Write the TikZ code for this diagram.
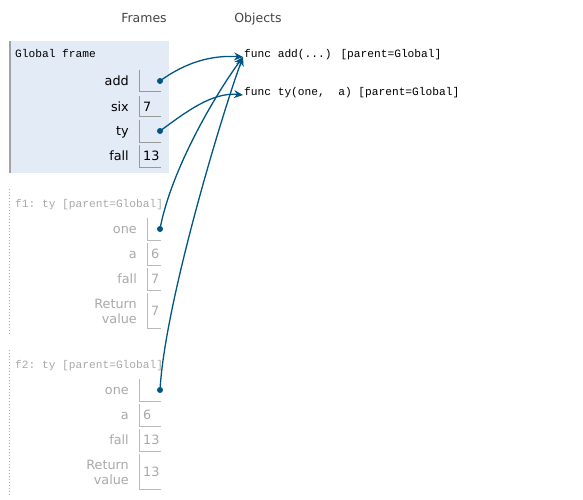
\documentclass[tikz,border=0pt]{standalone}
\usepackage{fontspec}
\setmainfont{DejaVu Sans}
\newfontfamily\codefont{Liberation Mono}
\usetikzlibrary{arrows.meta}
\definecolor{framebg}{HTML}{E2EBF6}
\definecolor{boxline}{HTML}{999999}
\definecolor{ghost}{HTML}{A9A9A9}
\definecolor{pointer}{HTML}{005583}
\definecolor{header}{HTML}{444444}
\begin{document}
\begin{tikzpicture}[x=1pt,y=-1pt,
  header/.style={font=\fontsize{12.5}{14}\selectfont, text=header, inner sep=0pt, text height=9.5pt, text depth=0pt},
  frametitle/.style={font=\codefont\fontsize{11.2}{13}\selectfont, anchor=west, inner sep=0pt, text height=8pt, text depth=0pt},
  objtext/.style={frametitle},
  varname/.style={font=\fontsize{12.8}{15}\selectfont, anchor=east, inner sep=0pt, text height=9.6pt, text depth=0pt},
  varval/.style={varname, anchor=west},
  retname/.style={font=\fontsize{12.8}{15}\selectfont, anchor=east, inner sep=0pt, align=right},
  valbox/.style={draw=boxline, line width=1pt},
  ghostbox/.style={draw=ghost!80, line width=1pt},
  dot/.style={circle, fill=pointer, inner sep=0pt, minimum size=6pt},
  ptr/.style={draw=pointer, line width=1.3pt, -{Stealth[length=9pt,width=8pt,inset=3pt]}},
]
\useasboundingbox (0,0) rectangle (583,500);

% headers
\node[header] (hframes) at (144,18) {Frames};
\node[header] (hobjects) at (258,18) {Objects};

% global frame
\fill[framebg] (9,41) rectangle (169,173);
\draw[boxline!90, line width=1.6pt] (9.8,41) -- (9.8,173);
\node[frametitle] (gtitle) at (15,54) {Global frame};

\node[varname] (gadd) at (129,81) {add};
\draw[valbox] (139.5,70) |- (161,92);
\node[dot] (dadd) at (160,81) {};

\node[varname] (gsix) at (129,106.5) {six};
\draw[valbox] (139.5,96) |- (161,117);
\node[varval] (vsix) at (143,106.5) {7};

\node[varname] (gty) at (129,131) {ty};
\draw[valbox] (139.5,120) |- (161,142);
\node[dot] (dty) at (160,131) {};

\node[varname] (gfall) at (129,156) {fall};
\draw[valbox] (139.5,145) |- (161,167);
\node[varval] (vfall) at (143,156) {13};

% frame f1
\draw[ghost, line width=1pt, dotted] (9.8,189) -- (9.8,335);
\begin{scope}[every node/.append style={text=ghost}]
\node[frametitle] (f1title) at (15,203) {f1:\ ty [parent=Global]};

\node[varname] (f1one) at (137,229) {one};
\draw[ghostbox] (147.5,218) |- (161,240);

\node[varname] (f1a) at (137,254) {a};
\draw[ghostbox] (147.5,243) |- (161,265);
\node[varval] (f1av) at (151,254) {6};

\node[varname] (f1fall) at (137,279) {fall};
\draw[ghostbox] (147.5,268) |- (161,290);
\node[varval] (f1fallv) at (151,279) {7};

\node[retname] (f1ret) at (137,311) {Return\\value};
\draw[ghostbox] (147.5,293) |- (161,328);
\node[varval] (f1retv) at (151,311) {7};
\end{scope}
\node[dot] (df1) at (160,229) {};

% frame f2
\draw[ghost, line width=1pt, dotted] (9.8,350) -- (9.8,495);
\begin{scope}[every node/.append style={text=ghost}]
\node[frametitle] (f2title) at (15,364) {f2:\ ty [parent=Global]};

\node[varname] (f2one) at (129,390) {one};
\draw[ghostbox] (139.5,379) |- (161,401);

\node[varname] (f2a) at (129,415) {a};
\draw[ghostbox] (139.5,404) |- (161,426);
\node[varval] (f2av) at (143,415) {6};

\node[varname] (f2fall) at (129,440) {fall};
\draw[ghostbox] (139.5,429) |- (161,451);
\node[varval] (f2fallv) at (143,440) {13};

\node[retname] (f2ret) at (129,472) {Return\\value};
\draw[ghostbox] (139.5,454) |- (161,489);
\node[varval] (f2retv) at (143,472) {13};
\end{scope}
\node[dot] (df2) at (160,390) {};

% heap objects
\node[objtext] (oadd) at (244,54) {func add(...) [parent=Global]};
\node[objtext] (oty) at (244,92) {func ty(one,\ \ a) [parent=Global]};

% pointers
\coordinate (tadd) at ([xshift=-1pt,yshift=-3pt]oadd.west);
\coordinate (tty) at ([xshift=-1pt,yshift=-3pt]oty.west);
\path[ptr] (dadd.center) .. controls (186,62) and (212,55) .. (tadd);
\path[ptr] (dty.center) .. controls (186,112) and (212,92) .. (tty);
\path[ptr] (df1.center) .. controls (171,170) and (215,95) .. (tadd);
\path[ptr] (df2.center) .. controls (165,300) and (225,105) .. (tadd);
\end{tikzpicture}
\end{document}
